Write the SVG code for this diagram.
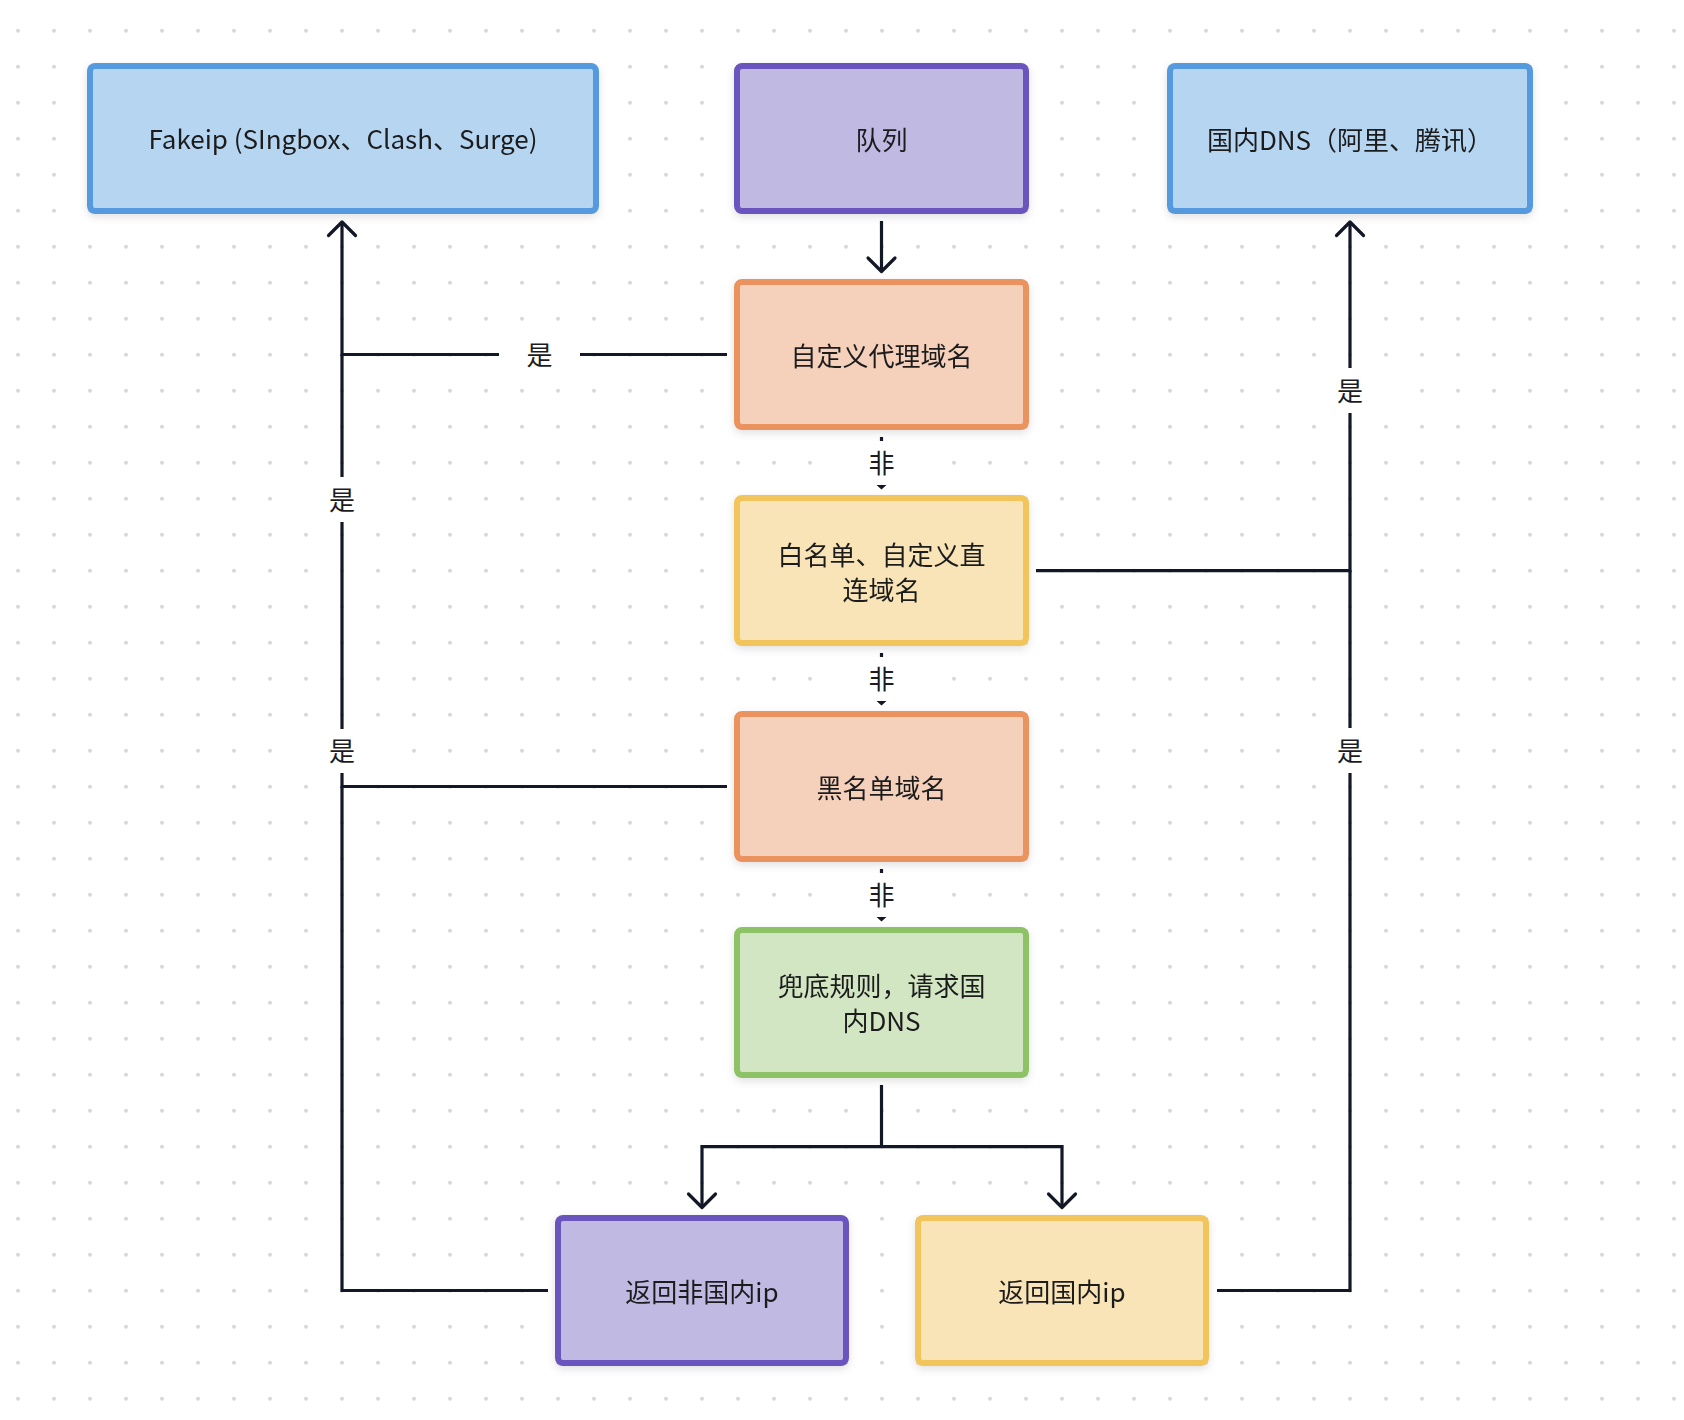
<svg xmlns="http://www.w3.org/2000/svg" width="1684" height="1420" viewBox="0 0 1684 1420">
  <style>
    .txt { font-family: "Noto Sans CJK SC", "Noto Sans", sans-serif; font-size: 26px; fill: #1c1c1e; text-anchor: middle; }
    .box { stroke-width: 6; }
    .blue { fill: #b6d5f1; stroke: #5499df; }
    .purple { fill: #c0b9e2; stroke: #6a55be; }
    .orange { fill: #f5d1bb; stroke: #eb935f; }
    .yellow { fill: #f8e4b6; stroke: #f2c45b; }
    .green { fill: #d3e6c3; stroke: #8ec266; }
    .line { fill: none; stroke: #121826; stroke-width: 3.2; }
    .head { fill: none; stroke: #121826; stroke-width: 3.2; stroke-linecap: round; stroke-linejoin: round; }
    .lblbg { fill: #ffffff; }
  </style>
  <defs>
    <pattern id="dots" patternUnits="userSpaceOnUse" x="0" y="0" width="36" height="36">
      <circle cx="18" cy="30.7" r="2" fill="#d8d8d8"/>
    </pattern>
    <filter id="shadow" x="-10%" y="-10%" width="120%" height="130%">
      <feDropShadow dx="0" dy="3" stdDeviation="4" flood-color="#000000" flood-opacity="0.12"/>
    </filter>
  </defs>

  <rect x="0" y="0" width="1684" height="1420" fill="#ffffff"/>
  <rect x="0" y="0" width="1684" height="1420" fill="url(#dots)"/>

  <g id="connectors">
    <!-- 队列 -> 自定义代理域名 -->
    <line class="line" x1="881.5" y1="221" x2="881.5" y2="271"/>
    <polyline class="head" points="868,258 881.5,271.5 895,258"/>

    <!-- 自定义代理域名 -> Fakeip -->
    <polyline class="line" points="727,354.5 342,354.5 342,223"/>
    <!-- 黑名单 -> Fakeip -->
    <polyline class="line" points="727,786.5 342,786.5 342,354.5"/>
    <!-- 返回非国内ip -> Fakeip -->
    <polyline class="line" points="548,1290.5 342,1290.5 342,786.5"/>
    <polyline class="head" points="328.5,235.5 342,222 355.5,235.5"/>

    <!-- 白名单 -> 国内DNS -->
    <polyline class="line" points="1036,570.7 1350,570.7 1350,223"/>
    <!-- 返回国内ip -> 国内DNS -->
    <polyline class="line" points="1217,1290.5 1350,1290.5 1350,570.7"/>
    <polyline class="head" points="1336.5,235.5 1350,222 1363.5,235.5"/>

    <!-- 兜底 split -->
    <polyline class="line" points="881.5,1085 881.5,1146.7"/>
    <polyline class="line" points="702,1207 702,1146.7 1062,1146.7 1062,1207"/>
    <polyline class="head" points="688.5,1194 702,1207.5 715.5,1194"/>
    <polyline class="head" points="1048.5,1194 1062,1207.5 1075.5,1194"/>

    <!-- 非 connectors -->
    <line class="line" x1="881.5" y1="437" x2="881.5" y2="486"/>
    <polygon points="876.5,485 886.5,485 881.5,489.5" fill="#121826"/>
    <line class="line" x1="881.5" y1="653" x2="881.5" y2="702"/>
    <polygon points="876.5,701 886.5,701 881.5,705.5" fill="#121826"/>
    <line class="line" x1="881.5" y1="869" x2="881.5" y2="918"/>
    <polygon points="876.5,917 886.5,917 881.5,921.5" fill="#121826"/>

    <!-- labels -->
    <rect class="lblbg" x="499" y="332" width="81" height="45"/>
    <text class="txt" x="539.5" y="364.5">是</text>
    <rect class="lblbg" x="301.5" y="477" width="81" height="45"/>
    <text class="txt" x="342" y="509.5">是</text>
    <rect class="lblbg" x="301.5" y="729" width="81" height="44"/>
    <text class="txt" x="342" y="761">是</text>
    <rect class="lblbg" x="1309.5" y="368" width="81" height="45"/>
    <text class="txt" x="1350" y="400.5">是</text>
    <rect class="lblbg" x="1309.5" y="728" width="81" height="45"/>
    <text class="txt" x="1350" y="760.5">是</text>

    <rect class="lblbg" x="841" y="441" width="81" height="44"/>
    <text class="txt" x="881.5" y="473">非</text>
    <rect class="lblbg" x="841" y="657" width="81" height="44"/>
    <text class="txt" x="881.5" y="689">非</text>
    <rect class="lblbg" x="841" y="873" width="81" height="44"/>
    <text class="txt" x="881.5" y="905">非</text>
  </g>

  <g id="node-fakeip" filter="url(#shadow)">
    <rect class="box blue" x="90" y="66" width="506" height="145" rx="5"/>
    <text class="txt" x="343" y="149">Fakeip (SIngbox、Clash、Surge)</text>
  </g>
  <g id="node-queue" filter="url(#shadow)">
    <rect class="box purple" x="737" y="66" width="289" height="145" rx="5"/>
    <text class="txt" x="881.5" y="149.5">队列</text>
  </g>
  <g id="node-domestic-dns" filter="url(#shadow)">
    <rect class="box blue" x="1170" y="66" width="360" height="145" rx="5"/>
    <text class="txt" x="1350" y="149.5">国内DNS（阿里、腾讯）</text>
  </g>
  <g id="node-custom-proxy" filter="url(#shadow)">
    <rect class="box orange" x="737" y="282" width="289" height="145" rx="5"/>
    <text class="txt" x="881.5" y="365.5">自定义代理域名</text>
  </g>
  <g id="node-whitelist" filter="url(#shadow)">
    <rect class="box yellow" x="737" y="498" width="289" height="145" rx="5"/>
    <text class="txt" x="881.5" y="565">白名单、自定义直</text>
    <text class="txt" x="881.5" y="600">连域名</text>
  </g>
  <g id="node-blacklist" filter="url(#shadow)">
    <rect class="box orange" x="737" y="714" width="289" height="145" rx="5"/>
    <text class="txt" x="881.5" y="797.5">黑名单域名</text>
  </g>
  <g id="node-fallback" filter="url(#shadow)">
    <rect class="box green" x="737" y="930" width="289" height="145" rx="5"/>
    <text class="txt" x="881.5" y="996">兜底规则，请求国</text>
    <text class="txt" x="881.5" y="1031">内DNS</text>
  </g>
  <g id="node-foreign-ip" filter="url(#shadow)">
    <rect class="box purple" x="558" y="1218" width="288" height="145" rx="5"/>
    <text class="txt" x="702" y="1301.5">返回非国内ip</text>
  </g>
  <g id="node-domestic-ip" filter="url(#shadow)">
    <rect class="box yellow" x="918" y="1218" width="288" height="145" rx="5"/>
    <text class="txt" x="1062" y="1301.5">返回国内ip</text>
  </g>
</svg>
